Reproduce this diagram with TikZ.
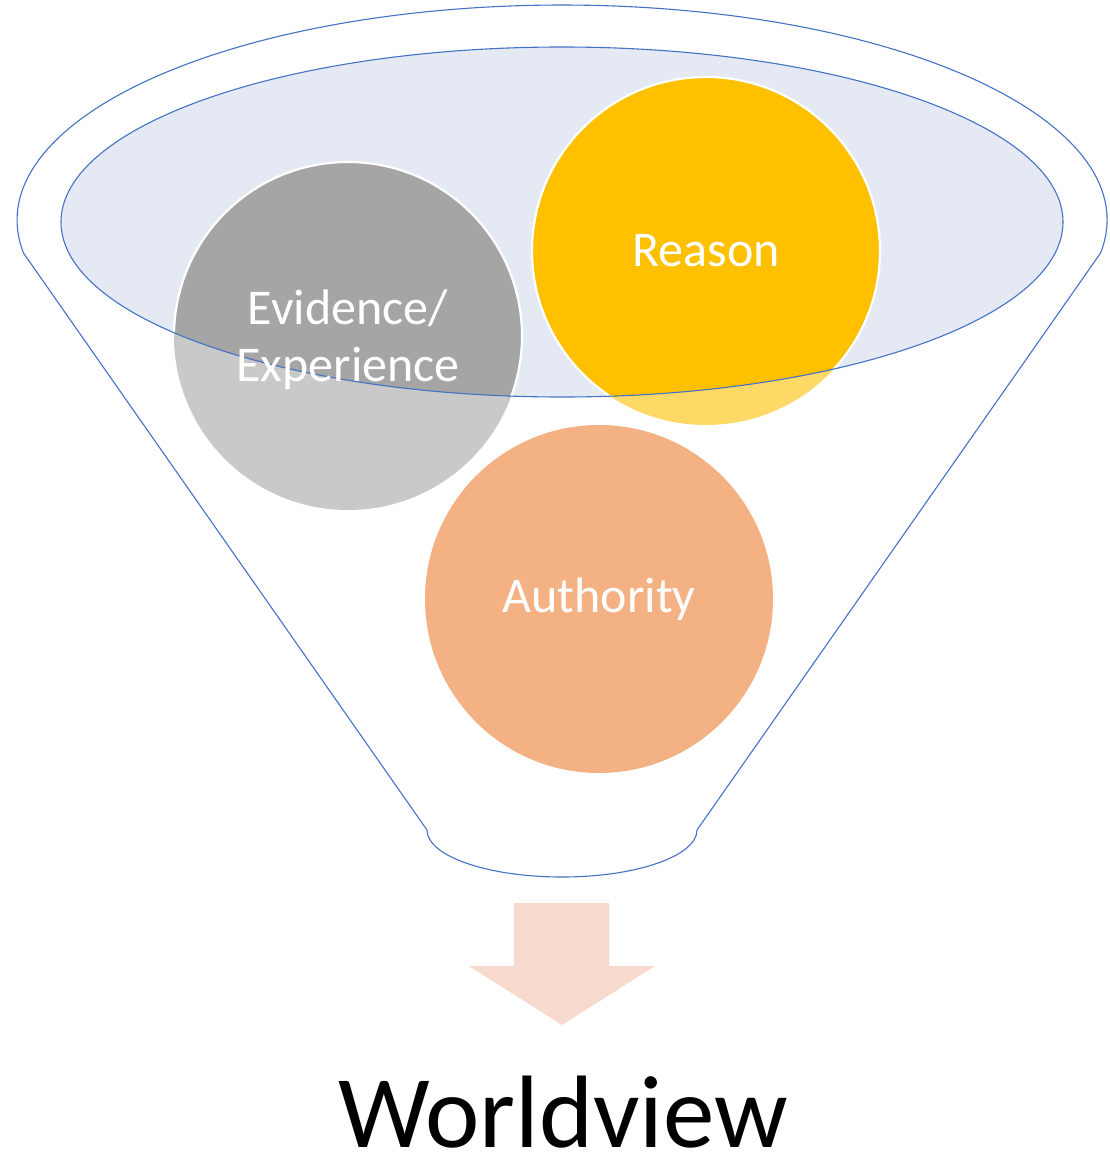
\documentclass[tikz,border=0pt]{standalone}
\usepackage{fontspec}
\setmainfont{Carlito}
\definecolor{funnelblue}{HTML}{4472C4}
\definecolor{rimfill}{HTML}{E4E9F4}
\definecolor{grayin}{HTML}{A5A5A5}
\definecolor{grayout}{HTML}{C9C9C9}
\definecolor{yellowin}{HTML}{FFC000}
\definecolor{yellowout}{HTML}{FFD966}
\definecolor{orangeball}{HTML}{F4B183}
\definecolor{arrowfill}{HTML}{F8D9CD}
\tikzset{
  funnelline/.style={draw=funnelblue, line width=1.1pt, line join=round},
  ball/.style={circle, minimum size=348pt, inner sep=0pt, text=white, font=\fontsize{50}{57}\selectfont, align=center},
  ballrim/.style={draw=white, line width=2.2pt}
}
\begin{document}
\begin{tikzpicture}[x=1pt,y=-1pt]
\useasboundingbox (0,0) rectangle (1110,1156);
% outer funnel
\coordinate (tl) at (23.4,252.9);
\coordinate (bl) at (427,830);
\coordinate (br) at (697,830);
\coordinate (tr) at (1100.6,252.9);
\draw[funnelline, fill=white] (tl) -- (bl)
  arc[start angle=180, end angle=0, x radius=135, y radius=47] -- (tr)
  arc[start angle=8.8, end angle=-188.8, x radius=545, y radius=215] -- cycle;
% inner rim fill
\coordinate (rimc) at (562,222);
\fill[rimfill] (rimc) ellipse[x radius=501, y radius=175];
% balls
\node[ball] (ev) at (348,336) {};
\node[ball] (re) at (706,251) {};
\node[ball] (au) at (599,599) {};
\fill[grayout] (ev.center) circle[radius=174];
\fill[yellowout] (re.center) circle[radius=174];
\begin{scope}
  \clip (rimc) ellipse[x radius=501, y radius=175];
  \fill[grayin] (ev.center) circle[radius=174];
  \fill[yellowin] (re.center) circle[radius=174];
  \draw[ballrim] (ev.center) circle[radius=174];
  \draw[ballrim] (re.center) circle[radius=174];
\end{scope}
\fill[orangeball] (au.center) circle[radius=174];
% rim outline on top
\draw[funnelline] (rimc) ellipse[x radius=501, y radius=175];
% labels
\node[ball] at ([yshift=-4pt]ev.center) {Evidence/\\Experience};
\node[ball] at (re.center) {Reason};
\node[ball] at (au.center) {Authority};
% arrow
\node[inner sep=0pt] (tip) at (562,1025) {};
\fill[arrowfill] (514,903) -- (609,903) -- (609,966) -- (655,966) -- (tip.center) -- (469,966) -- (514,966) -- cycle;
% result
\node[font=\fontsize{103}{120}\selectfont, inner sep=0pt, anchor=base] (wv) at (563,1147) {Worldview};
\end{tikzpicture}
\end{document}
